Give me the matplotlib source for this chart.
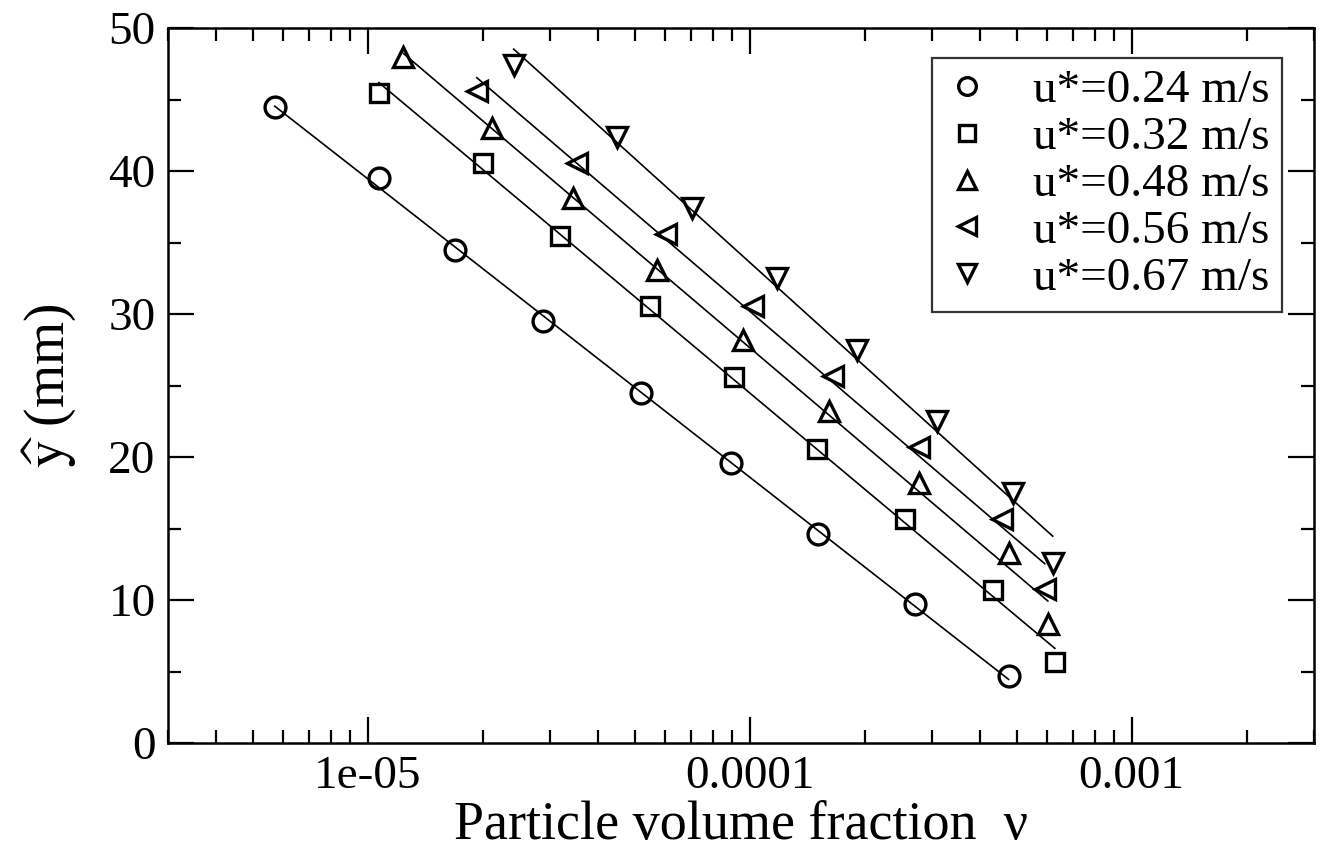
import numpy as np
import matplotlib
matplotlib.use("Agg")
import matplotlib.pyplot as plt
from matplotlib.ticker import LogLocator, MultipleLocator, FixedFormatter, FixedLocator

plt.rcParams["font.family"] = ["Liberation Serif", "DejaVu Serif"]
plt.rcParams["mathtext.fontset"] = "stix"

# values: particle volume fraction and height (mm)
labels = ["u*=0.24 m/s", "u*=0.32 m/s", "u*=0.48 m/s", "u*=0.56 m/s", "u*=0.67 m/s"]
markers = ["o", "s", "^", "<", "v"]

nu_024 = [5.71e-6, 1.07e-5, 1.69e-5, 2.87e-5, 5.18e-5, 8.92e-5, 1.51e-4, 2.70e-4, 4.76e-4]
y_024 = [44.5, 39.5, 34.5, 29.5, 24.5, 19.6, 14.6, 9.7, 4.7]

nu_032 = [1.07e-5, 2.00e-5, 3.18e-5, 5.47e-5, 9.08e-5, 1.50e-4, 2.55e-4, 4.33e-4, 6.29e-4]
y_032 = [45.5, 40.6, 35.5, 30.6, 25.6, 20.6, 15.7, 10.7, 5.7]

nu_048 = [1.24e-5, 2.11e-5, 3.44e-5, 5.71e-5, 9.59e-5, 1.61e-4, 2.77e-4, 4.76e-4, 6.03e-4]
y_048 = [48.0, 43.0, 38.1, 33.1, 28.2, 23.2, 18.2, 13.3, 8.3]

nu_056 = [1.93e-5, 3.52e-5, 6.03e-5, 1.02e-4, 1.65e-4, 2.77e-4, 4.57e-4, 5.92e-4]
y_056 = [45.6, 40.6, 35.6, 30.6, 25.7, 20.7, 15.7, 10.8]

nu_067 = [2.41e-5, 4.49e-5, 7.05e-5, 1.18e-4, 1.91e-4, 3.09e-4, 4.88e-4, 6.21e-4]
y_067 = [47.4, 42.4, 37.4, 32.5, 27.5, 22.5, 17.5, 12.6]

series = [(nu_024, y_024), (nu_032, y_032), (nu_048, y_048), (nu_056, y_056), (nu_067, y_067)]

fig = plt.figure(figsize=(13.25, 8.55), dpi=100)
ax = fig.add_axes([0.1268, 0.131, 0.8649, 0.836])

for (nu, y), m, lab in zip(series, markers, labels):
    nu = np.array(nu)
    y = np.array(y)
    # least squares fit of y against log10(nu), drawn over the data range
    b, a = np.polyfit(np.log10(nu), y, 1)
    xf = np.logspace(np.log10(nu.min()), np.log10(nu.max()), 50)
    ax.plot(xf, a + b * np.log10(xf), color="black", lw=1.2, zorder=2)
    ax.plot(nu, y, linestyle="none", marker=m, markersize=15 if m != "s" else 13,
            markerfacecolor="none", markeredgecolor="black", markeredgewidth=2.4,
            label=lab, zorder=3)

ax.set_xscale("log")
ax.set_xlim(3e-6, 3e-3)
ax.set_ylim(0, 50)

ax.xaxis.set_major_locator(FixedLocator([1e-5, 1e-4, 1e-3]))
ax.xaxis.set_major_formatter(FixedFormatter(["1e-05", "0.0001", "0.001"]))
ax.xaxis.set_minor_locator(LogLocator(base=10, subs=np.arange(2, 10)))
ax.xaxis.set_minor_formatter(FixedFormatter([]))
ax.yaxis.set_major_locator(MultipleLocator(10))
ax.yaxis.set_minor_locator(MultipleLocator(5))

ax.tick_params(which="both", direction="in", top=True, right=True, width=1.6, labelsize=34)
ax.tick_params(which="major", length=19, pad=9)
ax.tick_params(which="minor", length=9.5)
for s in ax.spines.values():
    s.set_linewidth(1.8)

ax.set_xlabel("Particle volume fraction  ν", fontsize=39, labelpad=2)
ax.set_ylabel(r"$\widehat{\mathrm{y}}$ (mm)", fontsize=40, labelpad=22)

leg = ax.legend(loc="upper right", bbox_to_anchor=(0.972, 0.959), borderaxespad=0,
                fontsize=34, frameon=True, fancybox=False, numpoints=1,
                markerscale=0.85, handlelength=1.0, handletextpad=0.9,
                labelspacing=0.08, borderpad=0.25)
leg.get_frame().set_edgecolor("black")
leg.get_frame().set_linewidth(1.6)

fig.savefig("out.png", dpi=100)
